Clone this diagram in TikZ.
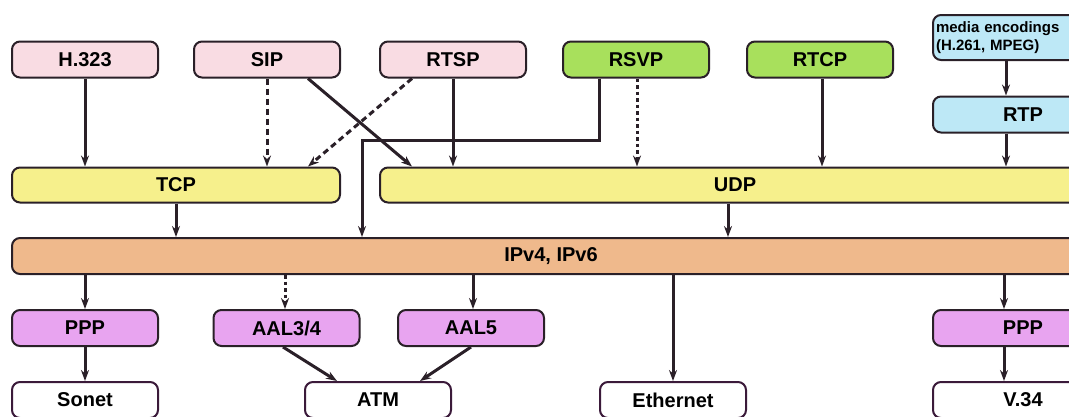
\documentclass[tikz,border=0pt]{standalone}
\usepackage{fontspec}
\setmainfont{Liberation Sans}
\usetikzlibrary{arrows.meta}

\definecolor{sigpink}{HTML}{F9DCE3}
\definecolor{ctlgreen}{HTML}{A8E05C}
\definecolor{medblue}{HTML}{BDE8F6}
\definecolor{trnyellow}{HTML}{F6F08C}
\definecolor{nettan}{HTML}{EFB98C}
\definecolor{lnkmagenta}{HTML}{E8A4F0}
\definecolor{edge}{HTML}{2A2028}

\begin{document}
\begin{tikzpicture}[
  x=1pt, y=-1pt,
  inner sep=1ex,
  font=\fontsize{20}{23}\selectfont\bfseries,
  box/.style={
    line width=2pt,
    draw=edge,
    rounded corners=8pt,
    minimum height=36pt,
    minimum width=146pt
  },
  signal/.style={box, fill=sigpink},
  control/.style={box, fill=ctlgreen},
  media/.style={box, fill=medblue},
  transport/.style={box, fill=trnyellow, minimum width=328pt, minimum height=35pt},
  network/.style={box, fill=nettan},
  link/.style={box, fill=lnkmagenta},
  phys/.style={box, fill=white, draw=edge!80!violet},
  a/.style={
    -{Stealth[length=11pt,width=8pt]},
    line width=3pt,
    draw=edge
  },
  dsh/.style={dash pattern=on 6pt off 4pt},
  dts/.style={dash pattern=on 3.5pt off 3pt}
  ]

  \useasboundingbox (0,0) rectangle (1069,416);
  \clip (0,0) rectangle (1069,416);

  % application layer
  \node (h323) [signal] at (85,59.5) {H.323};
  \node (sip) [signal] at (267,59.5) {SIP};
  \node (rtsp) [signal] at (453,59.5) {RTSP};
  \node (rsvp) [control] at (636,59.5) {RSVP};
  \node (rtcp) [control] at (820,59.5) {RTCP};
  \node (codecs) [media,minimum height=45pt,text width=174pt,align=left,
    font=\fontsize{15}{18}\selectfont\bfseries,anchor=west,inner sep=3pt] at (932,37.5)
    {media encodings\\(H.261, MPEG)};
  \node (rtp) [media,minimum width=180pt,anchor=west] at (932,114.5) {RTP};

  % transport layer
  \node (tcp) [transport] at (176,185) {TCP};
  \node (udp) [transport,minimum width=710pt] at (735,185) {UDP};

  % network layer
  \node (ip) [network,minimum width=1078pt] at (551,256) {IPv4, IPv6};

  % link and physical layers
  \node (ppp) [link] at (85,328) {PPP};
  \node (aal34) [link] at (286.5,328) {AAL3/4};
  \node (aal5) [link] at (471,328) {AAL5};
  \node (ppp2) [link,anchor=west,minimum width=180pt] at (932,328) {PPP};
  \node (sonet) [phys] at (85,400) {Sonet};
  \node (atm) [phys] at (378,400) {ATM};
  \node (ethernet) [phys] at (673,400) {Ethernet};
  \node (v34) [phys,anchor=west,minimum width=180pt] at (932,400) {V.34};

  \coordinate (rsvp-turn) at (362,140);

  \draw [a] (h323) to (h323 |- tcp.north);
  \draw [a,dsh] (sip) to (sip |- tcp.north);
  \draw [a,dsh] ([xshift=-41pt]rtsp.south) to ([xshift=-33pt]tcp.north east);
  \draw [a] ([xshift=-33pt]sip.south east) to ([xshift=33pt]udp.north west);
  \draw [a] (rtsp) to (rtsp |- udp.north);
  \draw [a] ([xshift=-37pt]rsvp.south) |- (rsvp-turn) -- (rsvp-turn |- ip.north);
  \draw [a,dts] ([xshift=1pt]rsvp.south) to ([xshift=1pt]rsvp.south |- udp.north);
  \draw [a] ([xshift=2pt]rtcp.south) to ([xshift=2pt]rtcp.south |- udp.north);
  \draw [a] ([xshift=74pt]codecs.south west) to ([xshift=74pt]rtp.north west);
  \draw [a] ([xshift=74pt]rtp.south west) to ([xshift=74pt]rtp.south west |- udp.north);

  \draw [a] (tcp) to (tcp |- ip.north);
  \draw [a] ([xshift=349pt]udp.south west) to ([xshift=349pt]udp.south west |- ip.north);

  \draw [a] (ppp |- ip.south) to (ppp);
  \draw [a,dts] ([xshift=-1.5pt]aal34 |- ip.south) to ([xshift=-1.5pt]aal34.north);
  \draw [a] ([xshift=2pt]aal5 |- ip.south) to ([xshift=2pt]aal5.north);
  \draw [a] (ethernet |- ip.south) to (ethernet);
  \draw [a] ([xshift=72pt]ppp2.north west |- ip.south) to ([xshift=72pt]ppp2.north west);

  \draw [a] (ppp) to (sonet);
  \draw [a] ([xshift=-3.5pt]aal34.south) to ([xshift=-41pt]atm.north);
  \draw [a] (aal5.south) to ([xshift=42pt]atm.north);
  \draw [a] ([xshift=72pt]ppp2.south west) to ([xshift=72pt]v34.north west);
\end{tikzpicture}
\end{document}
